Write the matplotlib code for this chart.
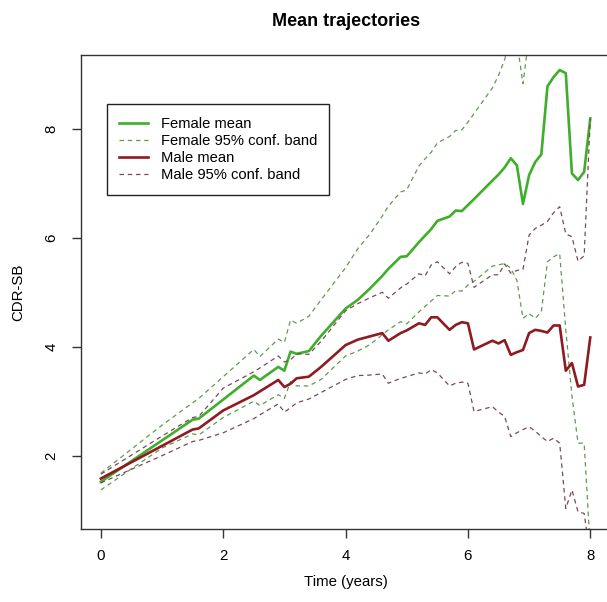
import numpy as np
import matplotlib
matplotlib.use("Agg")
import matplotlib.pyplot as plt

plt.rcParams['font.family'] = ['Liberation Sans', 'DejaVu Sans']

# time points (years)
time = [0, 0.5, 1.0, 1.5, 1.6, 2.0, 2.5, 2.6, 2.9, 3.0, 3.1, 3.2, 3.4, 3.6,
        4.0, 4.2, 4.4, 4.6, 4.7, 4.9, 5.0, 5.2, 5.3, 5.4, 5.5, 5.7, 5.8, 5.9,
        6.0, 6.1, 6.4, 6.5, 6.6, 6.7, 6.8, 6.9, 7.0, 7.1, 7.2, 7.3, 7.4, 7.5,
        7.6, 7.7, 7.8, 7.9, 8.0]

# female mean and 95% band
female_mean = [1.52, 1.90, 2.28, 2.66, 2.68, 3.03, 3.47, 3.39, 3.63, 3.56, 3.91, 3.87, 3.92, 4.20,
               4.70, 4.86, 5.07, 5.30, 5.43, 5.65, 5.66, 5.92, 6.04, 6.16, 6.31, 6.39, 6.50, 6.49,
               6.60, 6.71, 7.05, 7.16, 7.29, 7.46, 7.33, 6.62, 7.15, 7.39, 7.53, 8.78, 8.95, 9.08,
               9.02, 7.18, 7.06, 7.21, 8.19]
female_upper = [1.68, 2.12, 2.56, 2.97, 3.05, 3.45, 3.95, 3.82, 4.14, 4.08, 4.49, 4.43, 4.56, 4.86,
                5.45, 5.80, 6.07, 6.40, 6.58, 6.84, 6.88, 7.32, 7.45, 7.57, 7.74, 7.86, 7.97, 7.98,
                8.12, 8.28, 8.75, 8.98, 9.27, 9.70, 9.60, 8.83, 9.70, 10.1, 10.4, 12.0, 12.2, 12.4,
                12.3, 10.5, 10.3, 10.4, 16.0]
female_lower = [1.37, 1.76, 2.14, 2.40, 2.38, 2.70, 3.00, 2.92, 3.12, 3.05, 3.36, 3.28, 3.28, 3.40,
                3.83, 3.92, 4.04, 4.22, 4.31, 4.46, 4.42, 4.64, 4.74, 4.84, 4.94, 4.93, 5.03, 5.02,
                5.13, 5.20, 5.48, 5.50, 5.53, 5.44, 5.22, 4.52, 4.61, 4.52, 4.64, 5.56, 5.65, 5.71,
                4.31, 3.10, 2.23, 2.23, 0.30]

# male mean and 95% band
male_mean = [1.58, 1.88, 2.18, 2.48, 2.50, 2.83, 3.11, 3.18, 3.39, 3.26, 3.32, 3.42, 3.45, 3.63,
             4.03, 4.13, 4.19, 4.25, 4.11, 4.25, 4.30, 4.43, 4.40, 4.54, 4.54, 4.31, 4.40, 4.45,
             4.43, 3.95, 4.11, 4.06, 4.12, 3.85, 3.90, 3.94, 4.25, 4.31, 4.29, 4.26, 4.39, 4.39,
             3.56, 3.70, 3.27, 3.30, 4.17]
male_upper = [1.66, 2.01, 2.36, 2.70, 2.72, 3.24, 3.54, 3.61, 3.83, 3.72, 3.76, 3.87, 3.86, 4.10,
              4.66, 4.79, 4.90, 5.00, 4.89, 5.08, 5.15, 5.34, 5.30, 5.50, 5.56, 5.34, 5.47, 5.55,
              5.53, 5.09, 5.32, 5.32, 5.52, 5.35, 5.40, 5.42, 6.05, 6.17, 6.23, 6.30, 6.46, 6.57,
              6.07, 6.02, 5.57, 5.67, 8.19]
male_lower = [1.50, 1.75, 2.00, 2.26, 2.28, 2.42, 2.68, 2.75, 2.95, 2.80, 2.88, 2.97, 3.04, 3.16,
              3.40, 3.47, 3.48, 3.50, 3.33, 3.42, 3.45, 3.52, 3.50, 3.58, 3.52, 3.28, 3.33, 3.35,
              3.33, 2.81, 2.90, 2.80, 2.72, 2.35, 2.42, 2.48, 2.53, 2.45, 2.35, 2.26, 2.32, 2.23,
              1.03, 1.37, 0.97, 0.94, 0.15]

female_col = '#3fae2a'
female_band_col = '#5f9a4f'
male_col = '#8e1b22'
male_band_col = '#7a4858'
dash = (0, (3.6, 3.0))

fig = plt.figure(figsize=(6.07, 6.02), dpi=100)
ax = fig.add_axes([0.1339, 0.1218, 0.8708, 0.7864])

ax.plot(time, female_mean, color=female_col, lw=1.9, label='Female mean')
ax.plot(time, female_upper, color=female_band_col, lw=0.9, linestyle=dash, label='Female 95% conf. band')
ax.plot(time, female_lower, color=female_band_col, lw=0.9, linestyle=dash)
ax.plot(time, male_mean, color=male_col, lw=1.9, label='Male mean')
ax.plot(time, male_upper, color=male_band_col, lw=0.9, linestyle=dash, label='Male 95% conf. band')
ax.plot(time, male_lower, color=male_band_col, lw=0.9, linestyle=dash)

ax.set_xlim(-0.32, 8.32)
ax.set_ylim(0.66, 9.35)
ax.set_xticks([0, 2, 4, 6, 8])
ax.set_yticks([2, 4, 6, 8])

for s in ax.spines.values():
    s.set_color('#333333')
    s.set_linewidth(1.0)
ax.tick_params(direction='out', length=6.3, width=1.0, color='#333333', labelsize=10.8, pad=8)
ax.tick_params(axis='y', pad=10)
for lab in ax.get_yticklabels():
    lab.set_rotation(90)
    lab.set_va('center')
    lab.set_ha('right')

ax.set_title('Mean trajectories', fontsize=13, fontweight='bold', pad=21)
ax.set_xlabel('Time (years)', fontsize=10.8)
ax.set_ylabel('CDR-SB', fontsize=10.8)
ax.xaxis.set_label_coords(0.5, -0.1126)
ax.xaxis.label.set_va('center')
ax.yaxis.set_label_coords(-0.1198, 0.5)
ax.yaxis.label.set_va('center')

leg = ax.legend(loc='upper left', bbox_to_anchor=(0.0484, 0.8965), fontsize=10.6,
                frameon=True, fancybox=False, edgecolor='#222222', framealpha=1,
                handlelength=1.95, handletextpad=0.85, labelspacing=0.22,
                borderpad=0.85, borderaxespad=0)
leg.get_frame().set_linewidth(1.0)

fig.savefig('out.png', dpi=100)
